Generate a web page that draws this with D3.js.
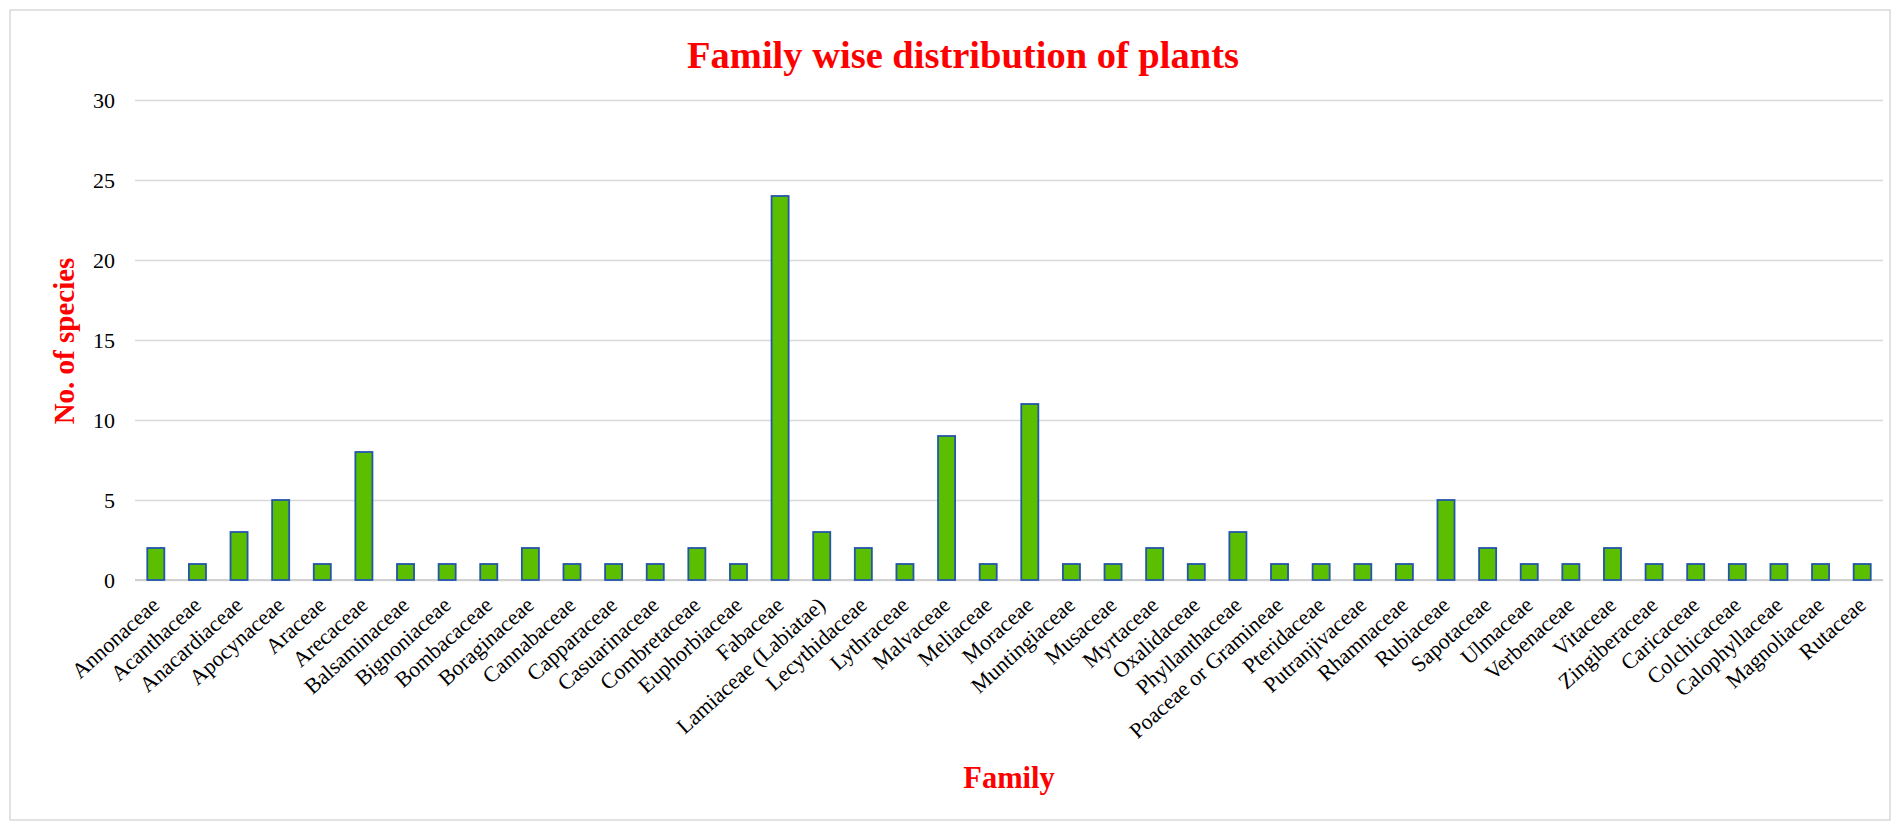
<!DOCTYPE html>
<html>
<head>
<meta charset="utf-8">
<script src="https://cdn.jsdelivr.net/npm/d3@7"></script>
<style>
  body { margin:0; background:#fff; }
  text { font-family: "Liberation Serif", "Times New Roman", serif; }
</style>
</head>
<body>
<div class="chart"></div>
<script>
// family names and species counts
var families = ["Annonaceae","Acanthaceae","Anacardiaceae","Apocynaceae","Araceae","Arecaceae",
  "Balsaminaceae","Bignoniaceae","Bombacaceae","Boraginaceae","Cannabaceae","Capparaceae",
  "Casuarinaceae","Combretaceae","Euphorbiaceae","Fabaceae","Lamiaceae (Labiatae)","Lecythidaceae",
  "Lythraceae","Malvaceae","Meliaceae","Moraceae","Muntingiaceae","Musaceae","Myrtaceae",
  "Oxalidaceae","Phyllanthaceae","Poaceae or Gramineae","Pteridaceae","Putranjivaceae","Rhamnaceae",
  "Rubiaceae","Sapotaceae","Ulmaceae","Verbenaceae","Vitaceae","Zingiberaceae","Caricaceae",
  "Colchicaceae","Calophyllaceae","Magnoliaceae","Rutaceae"];
var species = [2,1,3,5,1,8,1,1,1,2,1,1,1,2,1,24,3,2,1,9,1,11,1,1,2,1,3,1,1,1,1,5,2,1,1,2,1,1,1,1,1,1];
var yTicks = [0,5,10,15,20,25,30];

var values = { width:1895, height:822, left:135, right:1883, top:100, bottom:580 };

var data = families.map(function (f, i) { return { name: f, v: species[i] }; });

var svg = d3.select('.chart')
            .append('svg')
            .attr("width", values.width)
            .attr("height", values.height);

// outer frame
svg.append("rect")
    .attr("x", 10).attr("y", 10)
    .attr("width", 1880).attr("height", 810)
    .attr("fill", "none")
    .attr("stroke", "#d9d9d9")
    .attr("stroke-width", 1.5);

var x = d3.scaleBand()
          .domain(families)
          .range([values.left, values.right])
          .paddingInner(0.59)
          .paddingOuter(0.295);

var y = d3.scaleLinear()
          .domain([0, 30])
          .range([values.bottom, values.top]);

// gridlines + y labels
var yAxis = d3.axisLeft(y)
              .tickValues(yTicks)
              .tickSize(-(values.right - values.left))
              .tickPadding(20);

var gy = svg.append("g")
    .attr("class", "y axis")
    .attr("transform", "translate(" + values.left + ",0)")
    .call(yAxis);
gy.select(".domain").remove();
gy.selectAll("line").attr("stroke", "#d9d9d9").attr("stroke-width", 1.5);
gy.selectAll("text")
    .style("font-size", "22px")
    .attr("fill", "#000");

// baseline
svg.append("line")
    .attr("x1", values.left).attr("x2", values.right)
    .attr("y1", y(0)).attr("y2", y(0))
    .attr("stroke", "#d0d0d0")
    .attr("stroke-width", 2);

// bars
svg.selectAll("rect.bar")
    .data(data)
    .enter()
    .append("rect")
    .attr("class", "bar")
    .attr("x", function (d) { return x(d.name); })
    .attr("y", function (d) { return y(d.v); })
    .attr("width", x.bandwidth())
    .attr("height", function (d) { return y(0) - y(d.v); })
    .attr("fill", "#5bbf00")
    .attr("stroke", "#2356a8")
    .attr("stroke-width", 1.8);

// category labels, rotated
svg.selectAll("text.cat")
    .data(data)
    .enter()
    .append("text")
    .attr("class", "cat")
    .attr("transform", function (d) {
        return "translate(" + (x(d.name) + x.bandwidth() / 2 + 5) + "," + 607 + ") rotate(-42)";
    })
    .style("text-anchor", "end")
    .style("font-size", "22px")
    .attr("fill", "#000")
    .text(function (d) { return d.name; });

// titles
svg.append("text")
    .attr("x", 963).attr("y", 68)
    .style("text-anchor", "middle")
    .style("font-size", "38.5px")
    .style("font-weight", "bold")
    .attr("fill", "#ff0000")
    .text("Family wise distribution of plants");

svg.append("text")
    .attr("x", (values.left + values.right) / 2).attr("y", 788)
    .style("text-anchor", "middle")
    .style("font-size", "30.5px")
    .style("font-weight", "bold")
    .attr("fill", "#ff0000")
    .text("Family");

svg.append("text")
    .attr("transform", "translate(74,341) rotate(-90)")
    .style("text-anchor", "middle")
    .style("font-size", "29px")
    .style("font-weight", "bold")
    .attr("fill", "#ff0000")
    .text("No. of species");
</script>
</body>
</html>
